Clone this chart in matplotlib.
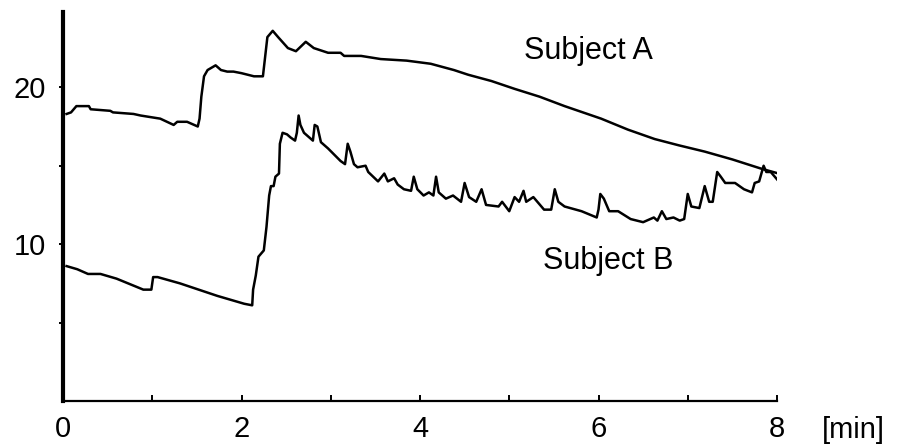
import matplotlib
matplotlib.use("Agg")
import matplotlib.pyplot as plt

plt.rcParams['font.family'] = ['Liberation Sans', 'DejaVu Sans']

# traces: time [min], value
a_t = [0.04, 0.09, 0.15, 0.29, 0.31, 0.53, 0.56, 0.79, 0.87, 1.09, 1.24, 1.28,
       1.39, 1.51, 1.53, 1.55, 1.58, 1.62, 1.71, 1.77, 1.84, 1.91, 2.0, 2.14,
       2.24, 2.26, 2.29, 2.35, 2.41, 2.52, 2.61, 2.72, 2.81, 2.97, 3.11, 3.15,
       3.34, 3.56, 3.85, 4.12, 4.38, 4.54, 4.8, 5.06, 5.34, 5.62, 6.03, 6.33,
       6.63, 6.9, 7.19, 7.5, 7.83, 8.02]
a_v = [18.3, 18.4, 18.8, 18.8, 18.6, 18.5, 18.4, 18.3, 18.2, 18.0, 17.6, 17.8,
       17.8, 17.5, 18.0, 19.4, 20.7, 21.1, 21.4, 21.1, 21.0, 21.0, 20.9, 20.7,
       20.7, 21.7, 23.2, 23.6, 23.2, 22.5, 22.3, 22.9, 22.5, 22.2, 22.2, 22.0,
       22.0, 21.8, 21.7, 21.5, 21.1, 20.8, 20.4, 19.9, 19.4, 18.8, 18.0, 17.3,
       16.7, 16.3, 15.9, 15.4, 14.8, 14.5]

b_t = [0.04, 0.16, 0.28, 0.42, 0.6, 0.9, 0.99, 1.01, 1.06, 1.31, 1.73, 2.03,
       2.12, 2.13, 2.16, 2.19, 2.25, 2.28, 2.31, 2.33, 2.36, 2.38, 2.42, 2.43,
       2.46, 2.51, 2.55, 2.6, 2.62, 2.64, 2.66, 2.7, 2.8, 2.82, 2.85, 2.89,
       2.97, 3.11, 3.16, 3.19, 3.22, 3.26, 3.3, 3.39, 3.42, 3.53, 3.6, 3.64,
       3.71, 3.75, 3.82, 3.9, 3.93, 3.97, 4.04, 4.1, 4.15, 4.18, 4.21, 4.29,
       4.37, 4.46, 4.5, 4.55, 4.63, 4.69, 4.74, 4.88, 4.92, 5.0, 5.06, 5.11,
       5.16, 5.19, 5.27, 5.39, 5.47, 5.51, 5.55, 5.62, 5.81, 5.98, 6.0, 6.02,
       6.06, 6.12, 6.22, 6.36, 6.5, 6.62, 6.66, 6.71, 6.76, 6.84, 6.91, 6.96,
       7.0, 7.04, 7.13, 7.19, 7.24, 7.28, 7.33, 7.37, 7.42, 7.53, 7.63, 7.72,
       7.75, 7.8, 7.85, 7.88, 7.93, 8.02]
b_v = [8.6, 8.4, 8.1, 8.1, 7.8, 7.1, 7.1, 7.9, 7.9, 7.5, 6.7, 6.2,
       6.1, 7.1, 8.0, 9.2, 9.6, 11.1, 13.1, 13.7, 13.7, 14.3, 14.5, 16.4,
       17.1, 17.0, 16.8, 16.6, 17.1, 18.2, 17.6, 17.1, 16.6, 17.6, 17.5, 16.5,
       16.1, 15.3, 15.1, 16.4, 15.9, 15.1, 14.9, 15.0, 14.6, 14.0, 14.5, 14.0,
       14.2, 13.8, 13.5, 13.4, 14.3, 13.5, 13.1, 13.3, 13.1, 14.3, 13.3, 12.9,
       13.1, 12.7, 13.9, 13.0, 12.7, 13.5, 12.5, 12.4, 12.7, 12.1, 13.0, 12.7,
       13.4, 12.7, 13.0, 12.2, 12.2, 13.5, 12.7, 12.4, 12.1, 11.7, 12.2, 13.2,
       12.9, 12.1, 12.1, 11.6, 11.4, 11.7, 11.5, 12.1, 11.6, 11.7, 11.5, 11.6,
       13.2, 12.4, 12.3, 13.7, 12.7, 12.7, 14.6, 14.3, 13.9, 13.9, 13.5, 13.3,
       13.9, 14.0, 15.0, 14.6, 14.6, 14.0]

x_major = [0, 2, 4, 6, 8]
x_minor = [1, 3, 5, 7]
y_major = [10, 20]
y_minor = [5, 15]

fig = plt.figure(figsize=(9.1, 4.45), dpi=100)
ax = fig.add_axes([63 / 910, 44 / 445, 714 / 910, 389 / 445])

ax.plot(a_t, a_v, color='black', lw=1.8)
ax.plot(b_t, b_v, color='black', lw=1.8)

ax.text(5.17, 21.8, 'Subject A', fontsize=22, ha='left', va='baseline')
ax.text(5.38, 8.4, 'Subject B', fontsize=22, ha='left', va='baseline')

ax.set_xlim(0, 8)
ax.set_ylim(0, 24.8)
ax.set_xticks(x_major)
ax.set_xticks(x_minor, minor=True)
ax.set_yticks(y_major)
ax.set_yticks(y_minor, minor=True)

for s in ['top', 'right']:
    ax.spines[s].set_visible(False)
ax.spines['left'].set_linewidth(3)
ax.spines['bottom'].set_linewidth(1.6)

ax.tick_params(axis='x', which='both', direction='in', length=4, width=1.4,
               labelsize=21, pad=10)
ax.tick_params(axis='y', which='both', direction='out', length=3, width=1.4,
               labelsize=21, pad=9)

ax.annotate('[min]', xy=(8, 0), xycoords='data', xytext=(55, -11),
            textcoords='offset points', ha='center', va='top', fontsize=21)

fig.savefig('out.png', dpi=100)
